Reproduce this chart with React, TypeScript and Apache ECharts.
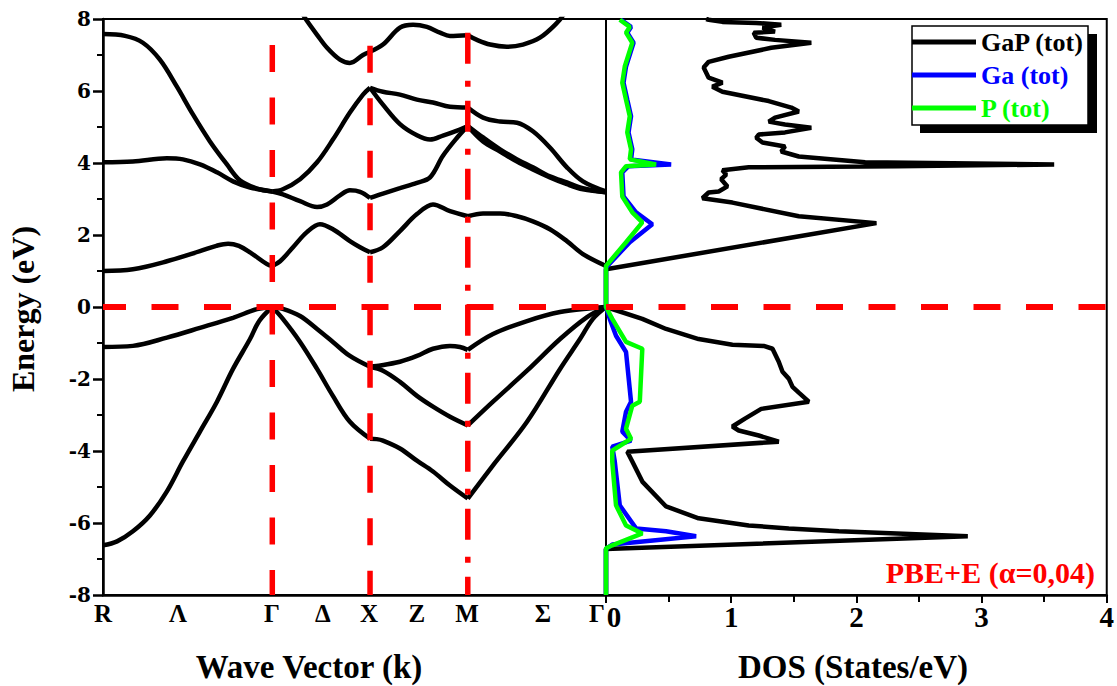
import React, { useEffect, useRef } from "react";
import * as echarts from "echarts";

// ---- k-path (R - Γ - X - M - Γ), simple cubic path lengths ----
const kEnd = 2.573;
const kSym = [0.866, 1.366, 1.866]; // Γ, X, M vertical guide positions
const kSymTop = [7.28, 7.26, 7.62]; // upper end of the red guides (eV)
const kLabelNames = ["R", "Λ", "Γ", "Δ", "X", "Z", "M", "Σ", "Γ"];
const kLabelPos = [0, 0.384, 0.864, 1.125, 1.361, 1.606, 1.862, 2.25, 2.527];

// ---- energy axis ----
const eMin = -8;
const eMax = 8;
const eStep = 2;

// ---- DOS axis ----
const dosMax = 4;

// ---- bands: each band is a list of segments of [k, E] ----
const bandV1 = [
  [[0, -6.62], [0.072, -6.51], [0.153, -6.23], [0.24, -5.79], [0.327, -5.12], [0.409, -4.29], [0.496, -3.46], [0.583, -2.63], [0.665, -1.72], [0.752, -0.89], [0.8, -0.38], [0.866, 0]],
  [[0.866, 0], [0.92, -0.33], [1.008, -0.97], [1.095, -1.72], [1.176, -2.47], [1.263, -3.19], [1.366, -3.66]],
  [[1.366, -3.66], [1.4, -3.67], [1.432, -3.71], [1.519, -3.93], [1.606, -4.27], [1.688, -4.57], [1.775, -4.96], [1.866, -5.32]],
  [[1.866, -5.32], [1.995, -4.4], [2.169, -3.19], [2.338, -1.72], [2.44, -0.89], [2.506, -0.33], [2.573, 0]],
];
const bandV2 = [
  [[0, -1.11], [0.153, -1.08], [0.327, -0.85], [0.496, -0.58], [0.665, -0.3], [0.788, -0.06], [0.866, 0]],
  [[0.866, 0], [0.92, -0.05], [1.008, -0.25], [1.095, -0.61], [1.176, -0.97], [1.263, -1.36], [1.366, -1.66]],
  [[1.366, -1.66], [1.4, -1.64], [1.519, -1.52], [1.606, -1.36], [1.688, -1.16], [1.775, -1.08], [1.826, -1.11], [1.866, -1.19]],
  [[1.866, -1.19], [1.995, -0.75], [2.169, -0.39], [2.338, -0.14], [2.506, -0.03], [2.573, 0]],
];
const bandV3 = [
  [[1.366, -1.66], [1.432, -1.77], [1.519, -2.08], [1.606, -2.47], [1.688, -2.77], [1.775, -3.05], [1.866, -3.29]],
  [[1.866, -3.29], [1.995, -2.63], [2.169, -1.77], [2.338, -0.89], [2.476, -0.28], [2.573, 0]],
];
const bandC1 = [
  [[0, 1.0], [0.153, 1.05], [0.327, 1.27], [0.496, 1.55], [0.58, 1.7], [0.64, 1.76], [0.695, 1.7], [0.752, 1.52], [0.839, 1.19], [0.866, 1.14]],
  [[0.866, 1.14], [0.906, 1.27], [0.972, 1.66], [1.043, 2.08], [1.11, 2.3], [1.176, 2.16], [1.263, 1.83], [1.315, 1.66], [1.366, 1.52]],
  [[1.366, 1.52], [1.432, 1.66], [1.519, 2.11], [1.606, 2.58], [1.688, 2.85], [1.775, 2.66], [1.866, 2.52]],
  [[1.866, 2.52], [1.944, 2.6], [2.031, 2.6], [2.118, 2.52], [2.199, 2.38], [2.286, 2.16], [2.373, 1.83], [2.455, 1.47], [2.573, 1.14]],
];
const bandC2 = [
  [[0, 4.02], [0.153, 4.04], [0.327, 4.13], [0.409, 4.1], [0.496, 3.96], [0.583, 3.74], [0.665, 3.49], [0.752, 3.32], [0.866, 3.21]],
  [[0.866, 3.21], [0.92, 3.13], [1.008, 2.94], [1.095, 2.78], [1.146, 2.85], [1.212, 3.1], [1.263, 3.24], [1.315, 3.2], [1.366, 3.03]],
  [[1.366, 3.03], [1.432, 3.15], [1.519, 3.3], [1.606, 3.45], [1.673, 3.6], [1.739, 4.2], [1.811, 4.7], [1.866, 5.03]],
  [[1.866, 5.03], [1.944, 4.6], [2.031, 4.32], [2.118, 4.04], [2.199, 3.82], [2.286, 3.6], [2.373, 3.41], [2.455, 3.27], [2.573, 3.19]],
];
const bandC3 = [
  [[0, 7.58], [0.113, 7.53], [0.204, 7.34], [0.291, 6.87], [0.378, 6.12], [0.46, 5.35], [0.547, 4.6], [0.634, 3.96], [0.7, 3.52], [0.788, 3.29], [0.866, 3.21]],
  [[0.866, 3.21], [0.92, 3.27], [1.008, 3.55], [1.095, 4.02], [1.176, 4.65], [1.263, 5.4], [1.33, 5.9], [1.366, 6.09]],
  [[1.366, 6.09], [1.432, 5.98], [1.519, 5.9], [1.606, 5.76], [1.688, 5.68], [1.775, 5.56], [1.866, 5.54]],
  [[1.866, 5.54], [1.944, 5.26], [2.031, 5.15], [2.118, 5.12], [2.199, 4.88], [2.286, 4.43], [2.373, 3.88], [2.455, 3.49], [2.573, 3.21]],
];
const bandC4 = [
  [[1.366, 6.09], [1.432, 5.62], [1.519, 5.08], [1.606, 4.77], [1.673, 4.65], [1.739, 4.76], [1.811, 4.9], [1.866, 5.03]],
  [[1.866, 5.03], [1.944, 4.71], [2.031, 4.38], [2.118, 4.1], [2.199, 3.88], [2.286, 3.63], [2.373, 3.46], [2.455, 3.3], [2.573, 3.19]],
];
const bandC5 = [
  [[1.02, 8.15], [1.043, 7.95], [1.095, 7.56], [1.146, 7.2], [1.212, 6.87], [1.263, 6.78], [1.33, 7.0], [1.366, 7.09]],
  [[1.366, 7.09], [1.432, 7.29], [1.519, 7.76], [1.586, 7.84], [1.657, 7.78], [1.724, 7.62], [1.775, 7.53], [1.866, 7.55]],
  [[1.866, 7.55], [1.913, 7.42], [1.98, 7.29], [2.066, 7.23], [2.148, 7.29], [2.235, 7.48], [2.322, 7.89], [2.36, 8.15]],
];
const bands = [bandV1, bandV2, bandV3, bandC1, bandC2, bandC3, bandC4, bandC5];

// ---- DOS curves: [DOS (states/eV), E (eV)] ----
const dosTotal = [
  [0, -8], [0, -6.72], [2.89, -6.37], [1.86, -6.23], [1.46, -6.15], [1.14, -6.07], [0.74, -5.87], [0.48, -5.54], [0.29, -4.85], [0.21, -4.29], [0.17, -4.02],
  [1.38, -3.74], [1.22, -3.57], [1.06, -3.43], [1.01, -3.32], [1.11, -3.1], [1.24, -2.83], [1.62, -2.63], [1.54, -2.38], [1.49, -2.22], [1.46, -1.99], [1.41, -1.8],
  [1.38, -1.52], [1.33, -1.16], [1.26, -1.08], [1.01, -1.05], [0.74, -0.89], [0.48, -0.61], [0.29, -0.33], [0, 0], [0, 1.05],
  [2.16, 2.33], [1.54, 2.52], [1.01, 2.9], [0.77, 3.02], [0.82, 3.18], [0.9, 3.21], [0.97, 3.35], [0.92, 3.55], [0.96, 3.68], [0.93, 3.8], [1.14, 3.88],
  [2.33, 3.91], [3.58, 3.96], [2.07, 4.02], [1.54, 4.18], [1.4, 4.32], [1.43, 4.46], [1.25, 4.57], [1.2, 4.7], [1.22, 4.79], [1.43, 4.85], [1.64, 4.98],
  [1.43, 5.07], [1.3, 5.15], [1.35, 5.26], [1.54, 5.43], [1.48, 5.54], [1.3, 5.72], [0.93, 5.98], [0.85, 6.12], [0.93, 6.23], [0.82, 6.37], [0.78, 6.65],
  [0.82, 6.81], [0.98, 6.95], [1.32, 7.2], [1.64, 7.34], [1.35, 7.42], [1.2, 7.48], [1.18, 7.62], [1.35, 7.65], [1.25, 7.76], [1.4, 7.84], [1.2, 7.89],
  [0.93, 7.92], [0.82, 7.98], [0.8, 8.0],
];
const dosGa = [
  [0, -8], [0, -6.72], [0.05, -6.6], [0.72, -6.37], [0.48, -6.23], [0.24, -6.15], [0.11, -5.51], [0.07, -4.29], [0.05, -3.88], [0.2, -3.71], [0.13, -3.46],
  [0.16, -2.91], [0.2, -2.63], [0.16, -1.25], [0.08, -0.8], [0.03, -0.33], [0, 0], [0, 1.1], [0.19, 1.8], [0.37, 2.3], [0.24, 2.63], [0.14, 3.07],
  [0.13, 3.74], [0.18, 3.91], [0.52, 3.96], [0.2, 4.1], [0.21, 4.38], [0.18, 4.85], [0.2, 5.3], [0.17, 5.76], [0.14, 6.23], [0.16, 6.68], [0.22, 7.34],
  [0.17, 7.62], [0.2, 7.78], [0.12, 7.98],
];
const dosP = [
  [0, -8], [0, -6.7], [0.05, -6.62], [0.29, -6.29], [0.16, -6.07], [0.08, -5.51], [0.05, -4.3], [0.05, -3.99], [0.2, -3.66], [0.16, -3.38], [0.21, -2.74],
  [0.27, -2.63], [0.29, -1.16], [0.16, -0.97], [0.05, -0.33], [0, 0], [0, 1.14], [0.16, 1.8], [0.29, 2.35], [0.21, 2.63], [0.13, 3.07], [0.12, 3.74],
  [0.16, 3.91], [0.4, 3.96], [0.19, 4.1], [0.2, 4.38], [0.17, 4.85], [0.19, 5.3], [0.16, 5.76], [0.13, 6.23], [0.15, 6.68], [0.21, 7.34], [0.16, 7.62],
  [0.19, 7.78], [0.11, 7.98],
];

const legendNames = ["GaP (tot)", "Ga (tot)", "P (tot)"];
const dosColors = ["#000000", "#0000ff", "#00ff00"];

const SERIF = '"Liberation Serif", "DejaVu Serif", serif';
const WIDE_SERIF = '"DejaVu Serif", "Liberation Serif", serif';

export default function App() {
  const ref = useRef<HTMLDivElement>(null);

  useEffect(() => {
    if (!ref.current) return;
    const chart = echarts.init(ref.current, null, { renderer: "svg" });

    const bandSeries: any[] = [];
    bands.forEach((band) => {
      band.forEach((seg) => {
        bandSeries.push({
          type: "line",
          xAxisIndex: 0,
          yAxisIndex: 0,
          data: seg,
          symbol: "none",
          smooth: 0.35,
          silent: true,
          z: 2,
          lineStyle: { color: "#000", width: 4.5 },
        });
      });
    });

    const guideSeries = kSym.map((k, i) => ({
      type: "line",
      xAxisIndex: 0,
      yAxisIndex: 0,
      data: [[k, kSymTop[i]], [k, eMin]],
      symbol: "none",
      silent: true,
      z: 4,
      lineStyle: {
        color: "#ff0000",
        width: 5.5,
        type: i === 2 ? [31, 17, 6, 14] : [27, 25.5],
      },
    }));

    const dosData = [dosTotal, dosGa, dosP];
    const dosSeries = dosData.map((d, i) => ({
      type: "line",
      name: legendNames[i],
      xAxisIndex: 1,
      yAxisIndex: 1,
      data: d,
      symbol: "none",
      silent: true,
      z: 3,
      color: dosColors[i],
      itemStyle: { color: dosColors[i] },
      lineStyle: { color: dosColors[i], width: 4.5 },
    }));

    const option: any = {
      animation: false,
      backgroundColor: "#fff",
      grid: [
        { left: 103, top: 19, width: 503, height: 576, show: true, borderColor: "#000", borderWidth: 2, backgroundColor: "transparent" },
        { left: 606, top: 19, width: 504, height: 576, show: true, borderColor: "#000", borderWidth: 2, backgroundColor: "transparent" },
      ],
      xAxis: [
        {
          gridIndex: 0,
          type: "value",
          min: 0,
          max: kEnd,
          axisLine: { show: true, onZero: false, lineStyle: { color: "#000", width: 2.5 } },
          axisTick: { show: false },
          splitLine: { show: false },
          axisLabel: {
            customValues: kLabelPos,
            formatter: (v: number) => {
              let best = 0;
              kLabelPos.forEach((p, i) => {
                if (Math.abs(p - v) < Math.abs(kLabelPos[best] - v)) best = i;
              });
              return kLabelNames[best];
            },
            color: "#000",
            fontFamily: SERIF,
            fontWeight: "bold",
            fontSize: 25,
            margin: 6,
          },
        },
        {
          gridIndex: 1,
          type: "value",
          min: 0,
          max: dosMax,
          interval: 1,
          axisLine: { show: true, onZero: false, lineStyle: { color: "#000", width: 2.5 } },
          axisTick: { show: true, length: 8, lineStyle: { color: "#000", width: 2 } },
          minorTick: { show: true, splitNumber: 2, length: 7, lineStyle: { color: "#000", width: 2 } },
          splitLine: { show: false },
          minorSplitLine: { show: false },
          axisLabel: {
            color: "#000",
            fontFamily: SERIF,
            fontWeight: "bold",
            fontSize: 29,
            margin: 7,
            formatter: (v: number) => (v === 0 ? "{z|0}" : String(v)),
            rich: {
              z: { padding: [0, 0, 0, 16], color: "#000", fontFamily: SERIF, fontWeight: "bold", fontSize: 29 },
            },
          },
        },
      ],
      yAxis: [
        {
          gridIndex: 0,
          type: "value",
          min: eMin,
          max: eMax,
          interval: eStep,
          axisLine: { show: true, onZero: false, lineStyle: { color: "#000", width: 2.5 } },
          axisTick: { show: true, length: 10, lineStyle: { color: "#000", width: 2.5 } },
          minorTick: { show: true, splitNumber: 2, length: 6, lineStyle: { color: "#000", width: 2 } },
          splitLine: { show: false },
          minorSplitLine: { show: false },
          axisLabel: {
            color: "#000",
            fontFamily: WIDE_SERIF,
            fontWeight: "bold",
            fontSize: 20,
            margin: 12,
          },
        },
        {
          gridIndex: 1,
          type: "value",
          min: eMin,
          max: eMax,
          interval: eStep,
          show: false,
          splitLine: { show: false },
        },
      ],
      legend: {
        show: true,
        orient: "vertical",
        left: 912,
        top: 27,
        padding: 0,
        itemWidth: 64,
        itemHeight: 5,
        itemGap: 3,
        icon: "rect",
        selectedMode: false,
        z: 10,
        textStyle: { fontFamily: SERIF, fontWeight: "bold", fontSize: 26, lineHeight: 30 },
        data: legendNames.map((n, i) => ({ name: n, textStyle: { color: dosColors[i] } })),
      },
      graphic: [
        { type: "rect", z: 5, shape: { x: 920, y: 34, width: 177, height: 99 }, style: { fill: "#000" }, silent: true },
        { type: "rect", z: 6, shape: { x: 912, y: 26, width: 176, height: 99 }, style: { fill: "#fff", stroke: "#000", lineWidth: 1.5 }, silent: true },
        {
          type: "text",
          z: 6,
          x: 1095,
          y: 572,
          style: { text: "PBE+E (α=0,04)", fill: "#ff0000", font: 'bold 30px "Liberation Serif"', align: "right", verticalAlign: "middle" },
        },
        {
          type: "text",
          z: 6,
          x: 23,
          y: 309,
          rotation: Math.PI / 2,
          style: { text: "Energy (eV)", fill: "#000", font: 'bold 32px "Liberation Serif"', align: "center", verticalAlign: "middle" },
        },
        {
          type: "text",
          z: 6,
          x: 309,
          y: 667,
          style: { text: "Wave Vector (k)", fill: "#000", font: 'bold 33px "Liberation Serif"', align: "center", verticalAlign: "middle" },
        },
        {
          type: "text",
          z: 6,
          x: 853,
          y: 667,
          style: { text: "DOS (States/eV)", fill: "#000", font: 'bold 33px "Liberation Serif"', align: "center", verticalAlign: "middle" },
        },
      ],
      series: [
        ...bandSeries,
        ...dosSeries,
        ...guideSeries,
        {
          type: "line",
          xAxisIndex: 0,
          yAxisIndex: 0,
          data: [[0, 0], [kEnd, 0]],
          symbol: "none",
          silent: true,
          z: 4,
          lineStyle: { color: "#ff0000", width: 6, type: [27, 25.5], dashOffset: 4 },
        },
        {
          type: "line",
          xAxisIndex: 1,
          yAxisIndex: 1,
          data: [[0, 0], [dosMax, 0]],
          symbol: "none",
          silent: true,
          z: 4,
          lineStyle: { color: "#ff0000", width: 6, type: [27, 25.5] },
        },
      ],
    };

    chart.setOption(option);
    return () => chart.dispose();
  }, []);

  return (
    <div
      ref={ref}
      style={{ position: "fixed", left: 0, top: 0, width: 1117, height: 686, background: "#fff" }}
    />
  );
}
